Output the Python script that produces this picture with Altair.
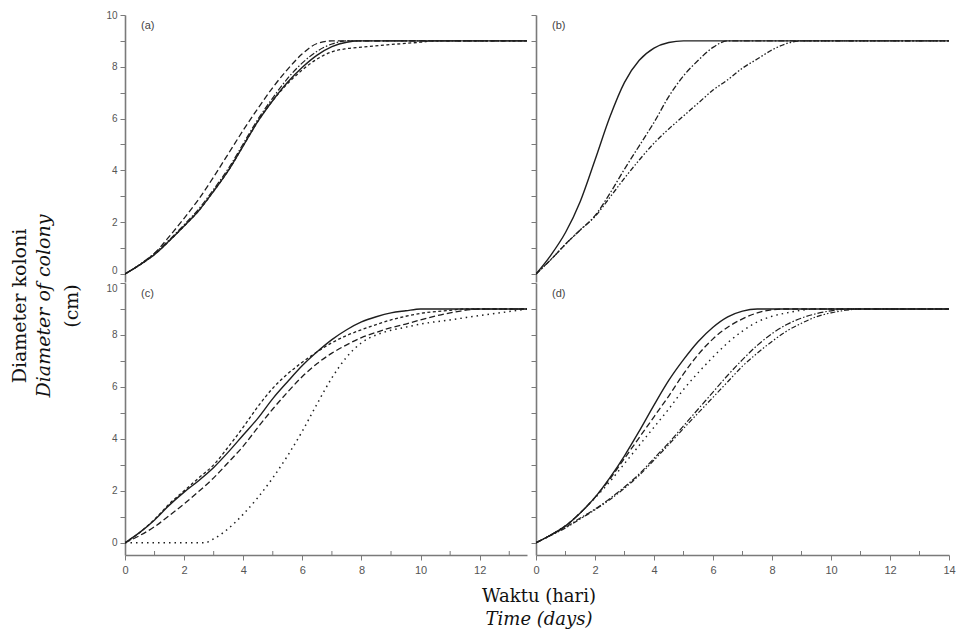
import altair as alt
import pandas as pd

# ---------------- data ----------------
# Panel (a)
A_SOLID_X = [0, 0.5, 1, 1.5, 2, 2.5, 3, 3.5, 4, 4.5, 5, 5.5, 6, 6.5, 7, 7.5, 8, 13.6]
A_SOLID_Y = [0, 0.35, 0.75, 1.28, 1.85, 2.45, 3.2, 4.0, 4.95, 5.9, 6.7, 7.4, 7.98, 8.45, 8.78, 8.95, 9.0, 9.0]
A_LDASH_X = [0, 0.5, 1, 1.5, 2, 2.5, 3, 3.5, 4, 4.5, 5, 5.5, 6, 6.5, 7, 13.6]
A_LDASH_Y = [0, 0.35, 0.8, 1.45, 2.15, 2.9, 3.75, 4.65, 5.55, 6.4, 7.2, 7.9, 8.5, 8.9, 9.0, 9.0]
A_DOT_X = [0, 0.5, 1, 1.5, 2, 2.5, 3, 3.5, 4, 4.5, 5, 5.5, 6, 6.5, 7, 7.5, 8, 9, 10, 10.5, 13.6]
A_DOT_Y = [0, 0.35, 0.75, 1.28, 1.85, 2.45, 3.2, 4.0, 4.95, 5.9, 6.7, 7.35, 7.88, 8.3, 8.58, 8.7, 8.76, 8.86, 8.95, 9.0, 9.0]
A_DDOT_X = [0, 0.5, 1, 1.5, 2, 2.5, 3, 3.5, 4, 4.5, 5, 5.5, 6, 6.5, 7, 7.5, 13.6]
A_DDOT_Y = [0, 0.37, 0.8, 1.32, 1.9, 2.52, 3.27, 4.08, 5.03, 5.98, 6.8, 7.55, 8.15, 8.6, 8.88, 9.0, 9.0]

# Panel (b)
B_SOLID_X = [0, 0.5, 1, 1.5, 2, 2.5, 3, 3.5, 4, 4.5, 5, 14]
B_SOLID_Y = [0, 0.72, 1.6, 2.8, 4.4, 6.05, 7.4, 8.25, 8.72, 8.94, 9.0, 9.0]
B_DDOT_X = [0, 0.5, 1, 1.5, 2, 2.5, 3, 3.5, 4, 4.5, 5, 5.5, 6, 6.5, 14]
B_DDOT_Y = [0, 0.55, 1.15, 1.7, 2.25, 3.1, 4.05, 4.95, 5.85, 6.85, 7.65, 8.25, 8.75, 9.0, 9.0]
B_LDASH_X = [0, 0.5, 1, 1.5, 2, 2.5, 3, 3.5, 4, 4.5, 5, 5.5, 6, 6.5, 7, 7.5, 8, 8.5, 9, 14]
B_LDASH_Y = [0, 0.55, 1.15, 1.7, 2.22, 2.95, 3.7, 4.4, 5.05, 5.6, 6.1, 6.6, 7.1, 7.5, 7.95, 8.3, 8.65, 8.9, 9.0, 9.0]

# Panel (c)
C_SOLID_X = [0, 0.5, 1, 1.5, 2, 2.5, 3, 3.5, 4, 4.5, 5, 5.5, 6, 6.5, 7, 7.5, 8, 8.5, 9, 9.5, 10, 13.6]
C_SOLID_Y = [0, 0.4, 0.88, 1.45, 1.95, 2.4, 2.9, 3.5, 4.15, 4.8, 5.55, 6.2, 6.82, 7.35, 7.82, 8.2, 8.5, 8.7, 8.85, 8.93, 9.0, 9.0]
C_SDASH_X = [0, 0.5, 1, 1.5, 2, 2.5, 3, 3.5, 4, 4.5, 5, 5.5, 6, 6.5, 7, 7.5, 8, 8.5, 9, 9.5, 10, 11, 11.5, 13.6]
C_SDASH_Y = [0, 0.4, 0.9, 1.5, 2.0, 2.5, 3.0, 3.7, 4.45, 5.25, 5.95, 6.5, 6.95, 7.35, 7.7, 7.98, 8.2, 8.4, 8.58, 8.72, 8.83, 8.95, 9.0, 9.0]
C_LDASH_X = [0, 0.5, 1, 1.5, 2, 2.5, 3, 3.5, 4, 4.5, 5, 5.5, 6, 6.5, 7, 7.5, 8, 8.5, 9, 9.5, 10, 11, 12, 13.6]
C_LDASH_Y = [0, 0.28, 0.62, 1.05, 1.5, 1.98, 2.5, 3.1, 3.72, 4.45, 5.15, 5.8, 6.4, 6.9, 7.3, 7.62, 7.9, 8.1, 8.28, 8.42, 8.58, 8.85, 9.0, 9.0]
C_LAG_X = [0, 1, 2, 2.7, 3, 3.5, 4, 4.5, 5, 5.5, 6, 6.5, 7, 7.5, 8, 8.5, 9, 9.5, 10, 11, 12, 13, 13.6]
C_LAG_Y = [0, 0, 0, 0, 0.15, 0.55, 1.1, 1.75, 2.5, 3.35, 4.3, 5.35, 6.35, 7.15, 7.7, 8.0, 8.18, 8.3, 8.42, 8.58, 8.75, 8.9, 9.0]

# Panel (d)
D_SOLID_X = [0, 0.5, 1, 1.5, 2, 2.5, 3, 3.5, 4, 4.5, 5, 5.5, 6, 6.5, 7, 7.5, 14]
D_SOLID_Y = [0, 0.3, 0.65, 1.15, 1.75, 2.5, 3.35, 4.3, 5.3, 6.25, 7.05, 7.75, 8.3, 8.7, 8.92, 9.0, 9.0]
D_LDASH_X = [0, 0.5, 1, 1.5, 2, 2.5, 3, 3.5, 4, 4.5, 5, 5.5, 6, 6.5, 7, 7.5, 8, 8.5, 14]
D_LDASH_Y = [0, 0.3, 0.65, 1.15, 1.75, 2.45, 3.25, 4.05, 4.85, 5.65, 6.5, 7.25, 7.85, 8.3, 8.62, 8.85, 8.97, 9.0, 9.0]
D_DOT_X = [0, 0.5, 1, 1.5, 2, 2.5, 3, 3.5, 4, 4.5, 5, 5.5, 6, 6.5, 7, 7.5, 8, 8.5, 9, 9.5, 14]
D_DOT_Y = [0, 0.3, 0.66, 1.15, 1.72, 2.35, 3.05, 3.75, 4.45, 5.15, 5.9, 6.55, 7.15, 7.7, 8.15, 8.5, 8.72, 8.85, 8.95, 9.0, 9.0]
D_DDOT_X = [0, 0.5, 1, 1.5, 2, 2.5, 3, 3.5, 4, 4.5, 5, 5.5, 6, 6.5, 7, 7.5, 8, 8.5, 9, 9.5, 10, 10.5, 14]
D_DDOT_Y = [0, 0.3, 0.6, 0.95, 1.3, 1.7, 2.15, 2.65, 3.25, 3.85, 4.5, 5.15, 5.8, 6.45, 7.05, 7.6, 8.05, 8.4, 8.65, 8.82, 8.93, 9.0, 9.0]
D_DDDOT_X = [0, 0.5, 1, 1.5, 2, 2.5, 3, 3.5, 4, 4.5, 5, 5.5, 6, 6.5, 7, 7.5, 8, 8.5, 9, 9.5, 10, 10.5, 11, 14]
D_DDDOT_Y = [0, 0.28, 0.57, 0.92, 1.27, 1.66, 2.1, 2.6, 3.18, 3.78, 4.4, 5.0, 5.6, 6.2, 6.8, 7.3, 7.75, 8.15, 8.45, 8.7, 8.85, 8.95, 9.0, 9.0]

PANEL_LABELS = ["(a)", "(b)", "(c)", "(d)"]
Y_TITLE = ["Diameter koloni", "Diameter of colony", "(cm)"]
X_TITLE = ["Waktu (hari)", "Time (days)"]
Y_TICKS = list(range(0, 11))
X_MAJOR_C = [0, 2, 4, 6, 8, 10, 12]
X_MAJOR_D = [0, 2, 4, 6, 8, 10, 12, 14]
X_MINOR_C = [1, 3, 5, 7, 9, 11, 13]
X_MINOR_D = [1, 3, 5, 7, 9, 11, 13]

# ---------------- styles ----------------
LINE = "#1e1e1e"
AXC = "#7a7a7a"
LABC = "#555555"
SANS = "Liberation Sans"
SERIF = "DejaVu Serif"

SOLID = None
LDASH = [6, 3]
SDASH = [3, 2.5]
DOTS = [1.5, 4]
DDOT = [6, 2, 1.5, 2]
DDDOT = [5, 2, 1.5, 2, 1.5, 2]

W_LEFT, W_RIGHT = 402, 413
H_TOP, H_BOT = 267, 272


def y_axis(show_labels, baseline_cond):
    kw = dict(values=Y_TICKS, tickSize=5, tickColor=AXC, tickWidth=1,
              domainColor=AXC, domainWidth=1.6, grid=False, title=None,
              labelFont=SANS, labelFontSize=10, labelColor=LABC, labelPadding=3)
    if show_labels:
        kw["labelExpr"] = "datum.value % 2 == 0 ? datum.label : ''"
        if baseline_cond is not None:
            kw["labelBaseline"] = {"condition": {"test": baseline_cond[0], "value": baseline_cond[1]},
                                   "value": "middle"}
    else:
        kw["labels"] = False
    return alt.Axis(**kw)


def x_axis(values):
    return alt.Axis(values=values, tickSize=5, tickColor=AXC, tickWidth=1,
                    domainColor=AXC, domainWidth=1.6, grid=False, title=None,
                    labelFont=SANS, labelFontSize=11, labelColor=LABC,
                    labelPadding=4, labelFlush=False)


def panel(series, xmax, ymin, w, h, label, show_ylabels, xvals, xminor,
          baseline_cond=None, extra=None):
    xs = alt.Scale(domain=[0, xmax], nice=False, zero=False)
    ys = alt.Scale(domain=[ymin, 10], nice=False, zero=False)
    xax = x_axis(xvals) if xvals is not None else None
    yax = y_axis(show_ylabels, baseline_cond)
    layers = []
    for xs_, ys_, dash, width in series:
        kw = dict(interpolate="monotone", color=LINE, strokeWidth=width, clip=True)
        if dash is not None:
            kw["strokeDash"] = dash
        layers.append(
            alt.Chart(pd.DataFrame({"day": xs_, "value": ys_}))
            .mark_line(**kw)
            .encode(x=alt.X("day:Q", scale=xs, axis=xax),
                    y=alt.Y("value:Q", scale=ys, axis=yax))
        )
    if xminor is not None:
        layers.append(
            alt.Chart(pd.DataFrame({"day": xminor}))
            .mark_rule(color=AXC, strokeWidth=1)
            .encode(x=alt.X("day:Q", scale=xs, axis=xax),
                    y=alt.value(h), y2=alt.value(h - 4))
        )
    layers.append(
        alt.Chart(pd.DataFrame({"t": [label]}))
        .mark_text(align="left", baseline="middle", font=SANS, fontSize=11, color="#444")
        .encode(text="t:N", x=alt.value(16), y=alt.value(11))
    )
    if extra:
        layers.extend(extra)
    return alt.layer(*layers).properties(width=w, height=h)


title_layers = []
for txt, xoff, style in zip(Y_TITLE, [-105, -81, -53], ["normal", "italic", "normal"]):
    title_layers.append(
        alt.Chart(pd.DataFrame({"t": [txt]}))
        .mark_text(align="center", baseline="middle", angle=270, font=SERIF,
                   fontSize=19, fontStyle=style, color="#111")
        .encode(text="t:N", x=alt.value(xoff), y=alt.value(23))
    )
for txt, yoff, style in zip(X_TITLE, [314, 337], ["normal", "italic"]):
    title_layers.append(
        alt.Chart(pd.DataFrame({"t": [txt]}))
        .mark_text(align="center", baseline="middle", font=SERIF,
                   fontSize=18, fontStyle=style, color="#111")
        .encode(text="t:N", x=alt.value(414), y=alt.value(yoff))
    )

pa = panel([(A_SOLID_X, A_SOLID_Y, SOLID, 1.4), (A_LDASH_X, A_LDASH_Y, LDASH, 1.3),
            (A_DOT_X, A_DOT_Y, SDASH, 1.3), (A_DDOT_X, A_DDOT_Y, DDOT, 1.2)],
           13.6, -0.31, W_LEFT, H_TOP, PANEL_LABELS[0], True, None, None,
           baseline_cond=("datum.value == 0", "alphabetic"))
pb = panel([(B_SOLID_X, B_SOLID_Y, SOLID, 1.4), (B_DDOT_X, B_DDOT_Y, DDOT, 1.3),
            (B_LDASH_X, B_LDASH_Y, DDDOT, 1.3)],
           14, -0.31, W_RIGHT, H_TOP, PANEL_LABELS[1], False, None, None)
pc = panel([(C_SOLID_X, C_SOLID_Y, SOLID, 1.4), (C_SDASH_X, C_SDASH_Y, SDASH, 1.3),
            (C_LDASH_X, C_LDASH_Y, LDASH, 1.3), (C_LAG_X, C_LAG_Y, DOTS, 1.5)],
           13.6, -0.47, W_LEFT, H_BOT, PANEL_LABELS[2], True, X_MAJOR_C, X_MINOR_C,
           baseline_cond=("datum.value == 10", "top"), extra=title_layers)
pd_ = panel([(D_SOLID_X, D_SOLID_Y, SOLID, 1.4), (D_LDASH_X, D_LDASH_Y, LDASH, 1.3),
             (D_DOT_X, D_DOT_Y, DOTS, 1.4), (D_DDOT_X, D_DDOT_Y, DDOT, 1.2),
             (D_DDDOT_X, D_DDDOT_Y, DDDOT, 1.2)],
            14, -0.47, W_RIGHT, H_BOT, PANEL_LABELS[3], False, X_MAJOR_D, X_MINOR_D)

chart = (
    alt.concat(pa, pb, pc, pd_, columns=2)
    .properties(
        spacing={"row": 1, "column": 9},
        bounds="flush",
        align="each",
        padding={"left": 3, "top": 2, "right": 0, "bottom": 2},
    )
    .configure_view(stroke=None)
)

chart.save("out.html", embed_options={"renderer": "svg", "actions": False})
